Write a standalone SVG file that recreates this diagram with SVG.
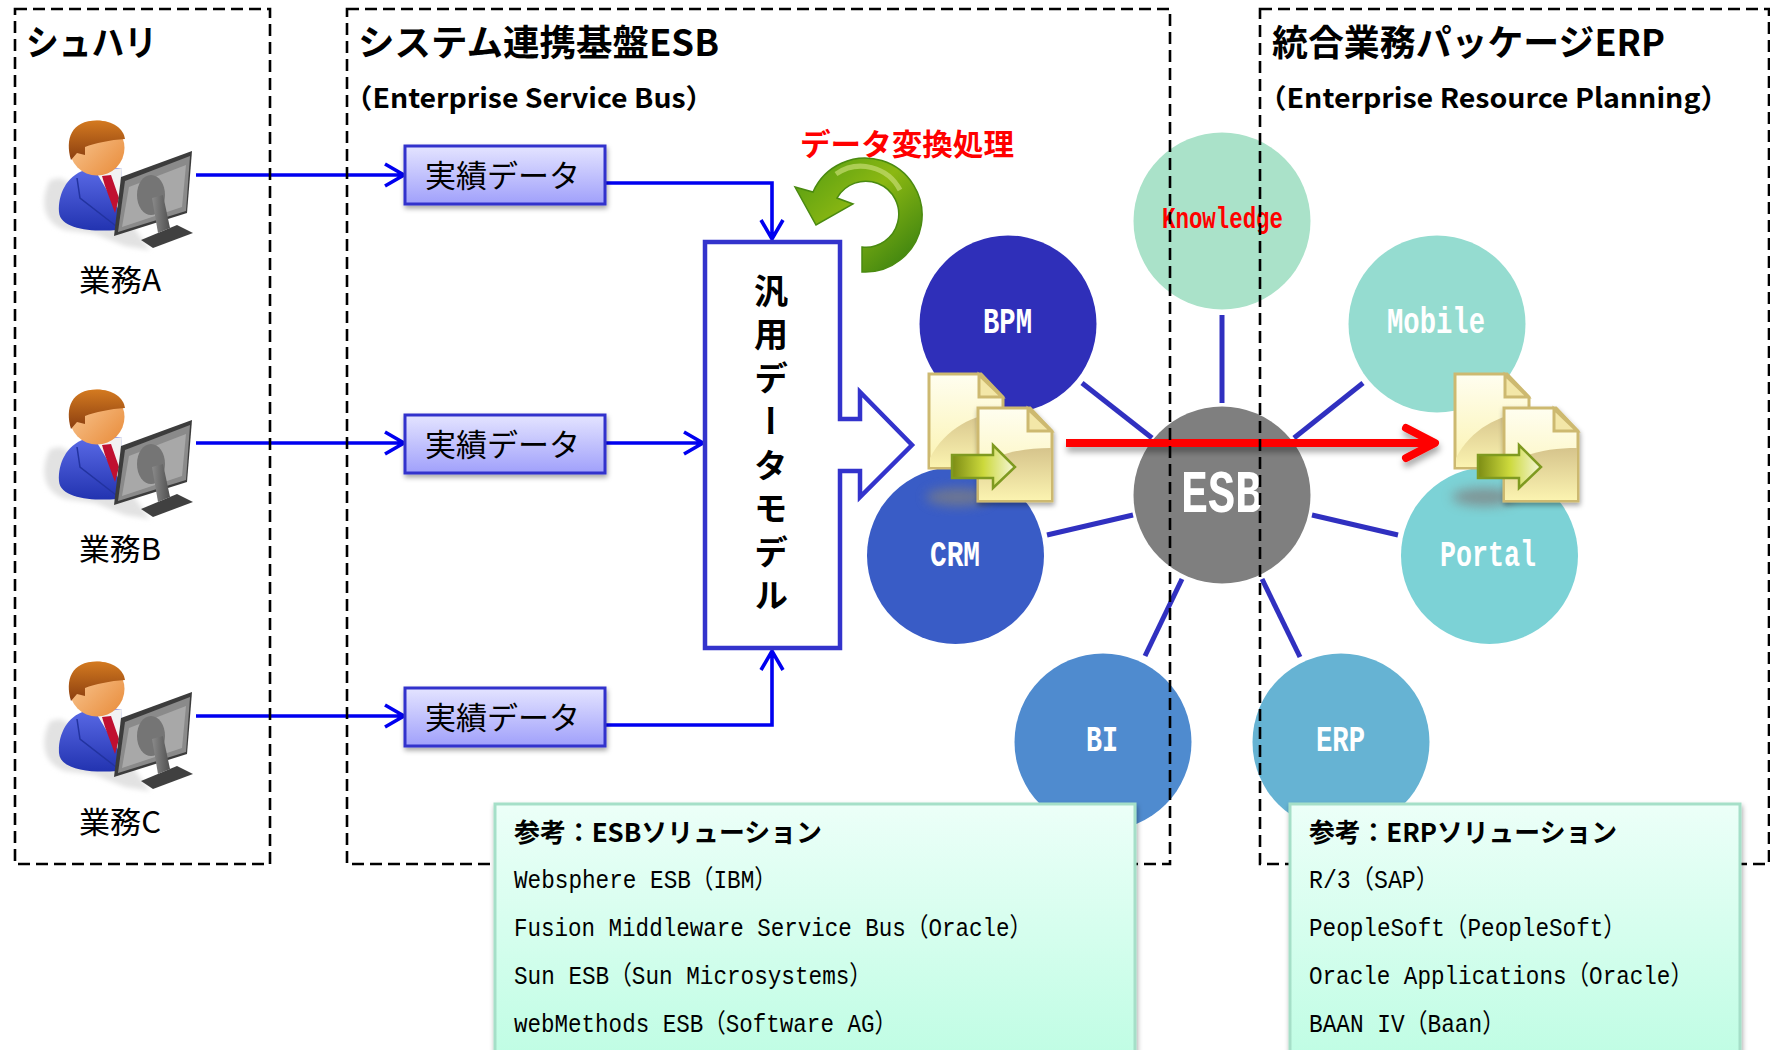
<svg xmlns="http://www.w3.org/2000/svg" xmlns:xlink="http://www.w3.org/1999/xlink" width="1770" height="1050" viewBox="0 0 1770 1050">
<style>
text{font-family:"Noto Sans CJK JP","Liberation Sans",sans-serif;}
.zone{fill:none;stroke:#000;stroke-width:2.6;stroke-dasharray:12 6;}
.h1{font-size:36px;font-weight:700;fill:#000;}
.h2{font-size:27px;font-weight:700;fill:#000;}
.task{font-size:30px;fill:#000;}
.data{fill:url(#gData);stroke:#3333cc;stroke-width:3;filter:url(#sh);}
.dt{font-size:31px;fill:#000;}
.mono{font-family:"Liberation Mono","Noto Sans CJK JP",monospace;}
.cl{font-size:36px;fill:#fff;font-weight:700;}
.lnk{stroke:#3030c0;stroke-width:5;fill:none;}
.flow{stroke:#0000f0;stroke-width:3.6;fill:none;}
.list{fill:url(#gList);stroke:#a5dfc8;stroke-width:3;filter:url(#sh);}
.lh{font-size:26px;font-weight:700;fill:#000;}
.li{font-size:26px;fill:#000;}
</style>
<defs>
<linearGradient id="gData" x1="0" y1="0" x2="0" y2="1"><stop offset="0" stop-color="#e4e4ff"/><stop offset="1" stop-color="#a0a0fb"/></linearGradient>
<linearGradient id="gList" x1="0" y1="0" x2="0" y2="1"><stop offset="0" stop-color="#ecfff8"/><stop offset="1" stop-color="#c0fde4"/></linearGradient>
<linearGradient id="gGreen" x1="0" y1="0" x2="1" y2="1"><stop offset="0" stop-color="#4f9a12"/><stop offset=".45" stop-color="#8cb812"/><stop offset="1" stop-color="#2f7a10"/></linearGradient>
<linearGradient id="gDoc" x1="0" y1="0" x2="0" y2="1"><stop offset="0" stop-color="#fffef0"/><stop offset="1" stop-color="#fbf3b0"/></linearGradient>
<linearGradient id="gDocLow" x1="0" y1="0" x2="0" y2="1"><stop offset="0" stop-color="#d6c48c"/><stop offset="1" stop-color="#fbf3b0"/></linearGradient>
<linearGradient id="gArr" x1="0" y1="0" x2="1" y2="0"><stop offset="0" stop-color="#7c8c14"/><stop offset=".5" stop-color="#ccd93c"/><stop offset="1" stop-color="#f6f6da"/></linearGradient>
<linearGradient id="gSuit" x1="0" y1="0" x2="0" y2="1"><stop offset="0" stop-color="#5a6ae6"/><stop offset="1" stop-color="#2233b0"/></linearGradient>
<linearGradient id="gFace" x1="0" y1="0" x2="1" y2="1"><stop offset="0" stop-color="#fbd0a0"/><stop offset="1" stop-color="#e88a38"/></linearGradient>
<linearGradient id="gHair" x1="0" y1="0" x2="0" y2="1"><stop offset="0" stop-color="#d47a20"/><stop offset="1" stop-color="#8a3e10"/></linearGradient>
<linearGradient id="gStand" x1="0" y1="0" x2="1" y2="0"><stop offset="0" stop-color="#8a8a8a"/><stop offset="1" stop-color="#505050"/></linearGradient>
<filter id="sh" x="-10%" y="-10%" width="120%" height="130%"><feDropShadow dx="1" dy="3" stdDeviation="2.5" flood-color="#000" flood-opacity=".35"/></filter>
<filter id="shr" x="-10%" y="-100%" width="120%" height="400%"><feDropShadow dx="1" dy="5" stdDeviation="3" flood-color="#000" flood-opacity=".35"/></filter>
<filter id="bl" x="-30%" y="-60%" width="160%" height="220%"><feGaussianBlur stdDeviation="6"/></filter>
<filter id="bs" x="-30%" y="-30%" width="160%" height="160%"><feGaussianBlur stdDeviation="2.5"/></filter>
<g id="person">
<path d="M50,180 C40,200 42,222 65,230 L95,234 L125,246 L150,250 L118,205 L60,178Z" fill="#e2e2e2" filter="url(#bs)"/>
<path d="M59,212 C58,195 66,176 85,170 L122,168 L117,230 C95,232 60,230 59,212Z" fill="url(#gSuit)"/>
<path d="M96,172 L122,168 L120,212Z" fill="#f2f2f2"/>
<path d="M102,176 L111,175 L119,198 L115,213 L105,186Z" fill="#c01030"/>
<path d="M77,178 L80,198 L116,226" fill="none" stroke="#2233a0" stroke-width="1.5"/>
<ellipse cx="97" cy="148" rx="27.5" ry="27.5" fill="url(#gFace)"/>
<path d="M71,160 C65,139 71,120.500 97,120.500 C113,120.500 124,129 125,139 C110,140 95,143 85,147 L85,155 L77,153Z" fill="url(#gHair)"/>
<path d="M121,177 L192,151 L187,213 L114,236Z" fill="#3c3c3c"/>
<path d="M125,181 L190,156 L186,211 L118,232Z" fill="#8a8a8a"/>
<path d="M129,187 L186,165 L182,207 L122,227Z" fill="#a8a8a8"/>
<ellipse cx="151" cy="195" rx="14" ry="20" fill="#757575"/>
<path d="M141,240 L177,225 L193,233 L153,248Z" fill="#404040"/>
<path d="M152,198 L163,195 L170,228 L158,233Z" fill="url(#gStand)"/>
</g>
<g id="docs">
<ellipse cx="958" cy="497" rx="32" ry="9" fill="#808080" opacity=".75" filter="url(#bl)"/>
<path d="M929,374 L981,374 L1003,397 L1003,468 L929,468Z" fill="url(#gDoc)" stroke="#cdb970" stroke-width="3"/>
<path d="M930,458 C945,428 975,414 1002,412 L1002,467 L930,467Z" fill="url(#gDocLow)"/>
<path d="M979,375 L979,397 L1002,397Z" fill="#f3e7a8" stroke="#cdb970" stroke-width="3"/>
<path d="M978,408 L1030,408 L1052,431 L1052,501 L978,501Z" fill="url(#gDoc)" stroke="#cdb970" stroke-width="3" filter="url(#sh)"/>
<path d="M979,467 C1000,452 1025,448 1051,448 L1051,500 L979,500Z" fill="url(#gDocLow)"/>
<path d="M1028,409 L1028,431 L1051,431Z" fill="#f3e7a8" stroke="#cdb970" stroke-width="3"/>
<path d="M952,455 L993,455 L993,445 L1015,467 L993,488 L993,478 L952,478Z" fill="url(#gArr)" stroke="#7f9a20" stroke-width="2.5"/>
</g>
</defs>

<g id="circles">
<g id="node-knowledge"><circle cx="1222" cy="221" r="88.500" fill="#aae2c9"/><text class="mono" x="1162" y="228" font-size="30" font-weight="700" fill="#ff0000" textLength="121" lengthAdjust="spacingAndGlyphs">Knowledge</text></g>
<g id="node-bpm"><circle cx="1008" cy="324" r="88.500" fill="#2f2fb9"/><text class="mono cl" x="983" y="333" textLength="49" lengthAdjust="spacingAndGlyphs">BPM</text></g>
<g id="node-mobile"><circle cx="1437" cy="324" r="88.500" fill="#95dcd0"/><text class="mono cl" x="1387" y="333" textLength="98" lengthAdjust="spacingAndGlyphs">Mobile</text></g>
<g id="node-crm"><circle cx="955.500" cy="555.500" r="88.500" fill="#395cc6"/><text class="mono cl" x="930" y="566" textLength="50" lengthAdjust="spacingAndGlyphs">CRM</text></g>
<g id="node-portal"><circle cx="1489.500" cy="555.500" r="88.500" fill="#7cd2d6"/><text class="mono cl" x="1440" y="566" textLength="96" lengthAdjust="spacingAndGlyphs">Portal</text></g>
<g id="node-bi"><circle cx="1103" cy="742" r="88.500" fill="#4f8bcf"/><text class="mono cl" x="1086" y="751" textLength="32" lengthAdjust="spacingAndGlyphs">BI</text></g>
<g id="node-erp"><circle cx="1341" cy="742" r="88.500" fill="#66b3d3"/><text class="mono cl" x="1316" y="751" textLength="49" lengthAdjust="spacingAndGlyphs">ERP</text></g>
<g id="node-esb"><circle cx="1222" cy="495" r="88.500" fill="#7f7f7f"/><text class="mono" x="1181" y="512" font-size="62" font-weight="700" fill="#fff" textLength="81" lengthAdjust="spacingAndGlyphs">ESB</text></g>
</g>

<g id="connectors">
<path class="lnk" d="M1082,383 L1152,438"/>
<path class="lnk" d="M1222,315 L1222,403"/>
<path class="lnk" d="M1363,383 L1294,438"/>
<path class="lnk" d="M1047,535 L1133,515"/>
<path class="lnk" d="M1312,515 L1398,535"/>
<path class="lnk" d="M1182,579 L1145,656"/>
<path class="lnk" d="M1262,579 L1300,657"/>
<path class="flow" d="M196,175 L403,175 M385,164 L404,175 L385,186"/>
<path class="flow" d="M196,443 L403,443 M385,432 L404,443 L385,454"/>
<path class="flow" d="M196,716 L403,716 M385,705 L404,716 L385,727"/>
<path class="flow" d="M606,183 L772,183 L772,238 M761,220 L772,239 L783,220"/>
<path class="flow" d="M606,443 L702,443 M684,432 L703,443 L684,454"/>
<path class="flow" d="M606,725 L772,725 L772,651 M761,670 L772,651 L783,670"/>
<g fill="none" stroke="#ff0000" stroke-width="8" filter="url(#shr)"><path d="M1066,443 L1434,443"/><path d="M1406,428 L1435,443 L1406,458" stroke-linecap="round" stroke-linejoin="round"/></g>
</g>

<g id="node-doc-left"><use href="#docs"/></g>
<g id="node-doc-right"><use href="#docs" transform="translate(526,0)"/></g>

<g id="zone-shuhari">
<rect class="zone" x="15" y="9" width="255" height="855"/>
<text class="h1" x="26" y="56" textLength="131" lengthAdjust="spacingAndGlyphs">シュハリ</text>
</g>
<g id="zone-esb">
<rect class="zone" x="347" y="9" width="823" height="855"/>
<text class="h1" x="358" y="56" textLength="361" lengthAdjust="spacingAndGlyphs">システム連携基盤ESB</text>
<text class="h2" x="344" y="108" textLength="370" lengthAdjust="spacingAndGlyphs">（Enterprise Service Bus）</text>
</g>
<g id="zone-erp">
<rect class="zone" x="1260" y="9" width="509" height="855"/>
<text class="h1" x="1272" y="56" textLength="393" lengthAdjust="spacingAndGlyphs">統合業務パッケージERP</text>
<text class="h2" x="1258" y="108" textLength="471" lengthAdjust="spacingAndGlyphs">（Enterprise Resource Planning）</text>
</g>

<g id="node-user-a"><use href="#person"/><text class="task" x="79" y="291" textLength="82" lengthAdjust="spacingAndGlyphs">業務A</text></g>
<g id="node-user-b"><use href="#person" transform="translate(0,269)"/><text class="task" x="79" y="560" textLength="82" lengthAdjust="spacingAndGlyphs">業務B</text></g>
<g id="node-user-c"><use href="#person" transform="translate(0,541)"/><text class="task" x="79" y="833" textLength="82" lengthAdjust="spacingAndGlyphs">業務C</text></g>

<g id="node-data-a"><rect class="data" x="405" y="146" width="200" height="58"/><text class="dt" x="425" y="187" textLength="155">実績データ</text></g>
<g id="node-data-b"><rect class="data" x="405" y="415" width="200" height="58"/><text class="dt" x="425" y="456" textLength="155">実績データ</text></g>
<g id="node-data-c"><rect class="data" x="405" y="688" width="200" height="58"/><text class="dt" x="425" y="729" textLength="155">実績データ</text></g>

<g id="node-model">
<path d="M705,242 L840,242 L840,419 L860,419 L860,392 L912,445 L860,497 L860,471 L840,471 L840,648 L705,648Z" fill="#fff" stroke="#3333cc" stroke-width="4.500" stroke-linejoin="miter"/>
<text x="771" y="274" font-size="34" font-weight="700" fill="#000" letter-spacing="9.500" style="writing-mode:vertical-rl">汎用データモデル</text>
</g>

<g id="node-transform">
<text x="800" y="155" font-size="30" font-weight="700" fill="#ff0000" textLength="214" lengthAdjust="spacingAndGlyphs">データ変換処理</text>
<path d="M862,272 A57,57 0 1 0 813,192 L795,187 L816,225 L853,204 L837,198 A33,33 0 1 1 862,247Z" fill="url(#gGreen)" stroke="#4a8a10" stroke-width="1.500"/>
<path d="M836,174 A44,44 0 0 1 900,190" fill="none" stroke="#c4dc70" stroke-width="5" opacity=".7"/>
</g>

<g id="node-esb-solutions">
<rect class="list" x="495" y="804" width="640" height="250"/>
<text class="lh" x="514" y="842" textLength="308" lengthAdjust="spacingAndGlyphs">参考：ESBソリューション</text>
<text class="li mono" x="514" y="888" textLength="263" lengthAdjust="spacingAndGlyphs">Websphere ESB（IBM）</text>
<text class="li mono" x="514" y="936" textLength="518" lengthAdjust="spacingAndGlyphs">Fusion Middleware Service Bus（Oracle）</text>
<text class="li mono" x="514" y="984" textLength="358" lengthAdjust="spacingAndGlyphs">Sun ESB（Sun Microsystems）</text>
<text class="li mono" x="514" y="1032" textLength="383" lengthAdjust="spacingAndGlyphs">webMethods ESB（Software AG）</text>
</g>
<g id="node-erp-solutions">
<rect class="list" x="1290" y="804" width="450" height="250"/>
<text class="lh" x="1309" y="842" textLength="308" lengthAdjust="spacingAndGlyphs">参考：ERPソリューション</text>
<text class="li mono" x="1309" y="888" textLength="130" lengthAdjust="spacingAndGlyphs">R/3（SAP）</text>
<text class="li mono" x="1309" y="936" textLength="317" lengthAdjust="spacingAndGlyphs">PeopleSoft（PeopleSoft）</text>
<text class="li mono" x="1309" y="984" textLength="384" lengthAdjust="spacingAndGlyphs">Oracle Applications（Oracle）</text>
<text class="li mono" x="1309" y="1032" textLength="196" lengthAdjust="spacingAndGlyphs">BAAN IV（Baan）</text>
</g>
</svg>
